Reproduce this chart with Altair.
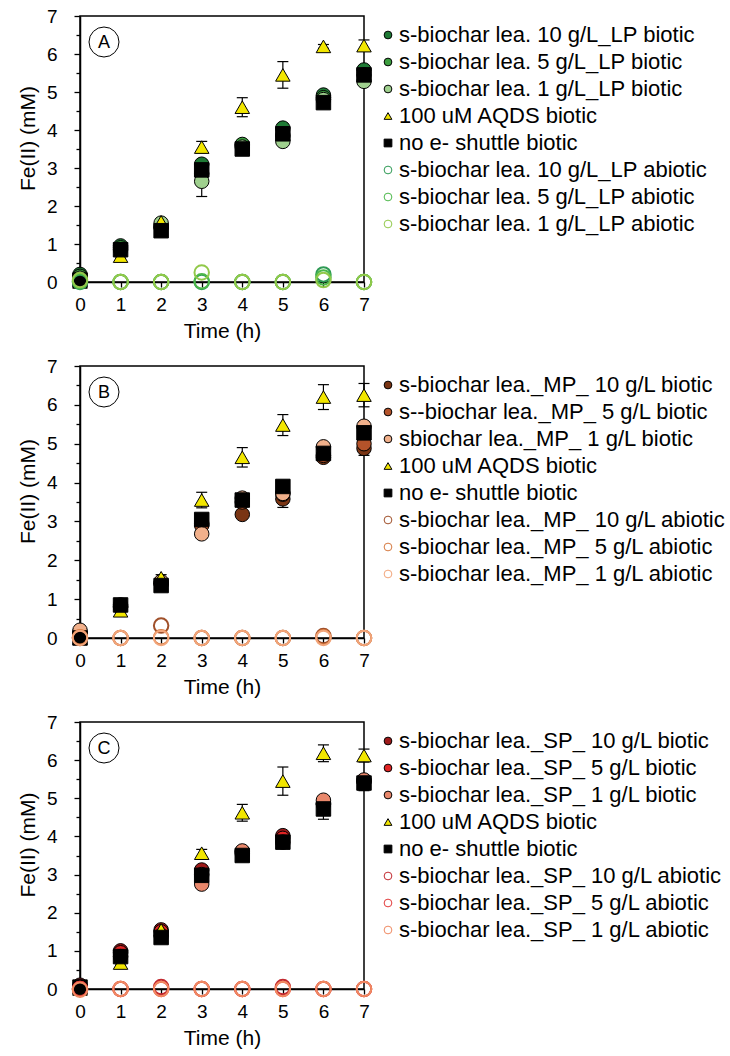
import altair as alt
import pandas as pd

FONT = "Liberation Sans"

hours = [0, 1, 2, 3, 4, 5, 6, 7]
y_ticks = [i * 0.5 for i in range(15)]

# ---------------- Panel A: leaf biochar, large particles (LP) ----------------
names_a = [
    "s-biochar lea. 10 g/L_LP biotic",
    "s-biochar lea. 5 g/L_LP biotic",
    "s-biochar lea. 1 g/L_LP biotic",
    "100 uM AQDS biotic",
    "no e- shuttle  biotic",
    "s-biochar lea. 10 g/L_LP abiotic",
    "s-biochar lea. 5 g/L_LP abiotic",
    "s-biochar lea. 1 g/L_LP abiotic",
]
fills_a = ["#1f7a35", "#3c9e3f", "#9fd08e", "#f2e600", "#000000",
           "transparent", "transparent", "transparent"]
strokes_a = ["#000000", "#000000", "#000000", "#000000", "#000000",
             "#2f9a55", "#4cb84a", "#92c94a"]
values_a = [
    [0.20, 0.95, 1.45, 3.10, 3.60, 4.05, 4.92, 5.58],
    [0.15, 0.90, 1.45, 2.85, 3.62, 3.85, 4.85, 5.45],
    [0.10, 0.85, 1.55, 2.65, 3.55, 3.70, 4.80, 5.28],
    [0.00, 0.68, 1.58, 3.55, 4.60, 5.45, 6.20, 6.22],
    [0.05, 0.85, 1.35, 2.95, 3.50, 3.90, 4.72, 5.45],
    [0.00, 0.00, 0.00, 0.00, 0.00, 0.00, 0.20, 0.00],
    [0.02, 0.00, 0.00, 0.02, 0.00, 0.00, 0.12, 0.00],
    [0.05, 0.00, 0.00, 0.25, 0.00, 0.00, 0.05, 0.00],
]
errors_a = [
    [0, 0.05, 0.05, 0.10, 0.05, 0.08, 0.05, 0.10],
    [0, 0.05, 0.05, 0.10, 0.05, 0.08, 0.05, 0.10],
    [0, 0.05, 0.05, 0.40, 0.05, 0.08, 0.05, 0.10],
    [0, 0.05, 0.08, 0.15, 0.25, 0.35, 0.05, 0.15],
    [0, 0.05, 0.05, 0.20, 0.05, 0.08, 0.05, 0.10],
    [0, 0, 0, 0, 0, 0, 0, 0],
    [0, 0, 0, 0, 0, 0, 0, 0],
    [0, 0, 0, 0, 0, 0, 0, 0],
]

# ---------------- Panel B: leaf biochar, medium particles (MP) ----------------
names_b = [
    "s-biochar lea._MP_ 10 g/L biotic",
    "s--biochar lea._MP_ 5 g/L biotic",
    "sbiochar lea._MP_ 1 g/L biotic",
    "100 uM AQDS biotic",
    "no e- shuttle biotic",
    "s-biochar lea._MP_ 10 g/L abiotic",
    "s-biochar lea._MP_ 5 g/L abiotic",
    "s-biochar lea._MP_ 1 g/L abiotic",
]
fills_b = ["#7a3514", "#b4532a", "#f1b08b", "#f2e600", "#000000",
           "transparent", "transparent", "transparent"]
strokes_b = ["#000000", "#000000", "#000000", "#000000", "#000000",
             "#a0502a", "#d6793f", "#f2a57a"]
values_b = [
    [0.15, 0.85, 1.40, 2.95, 3.18, 3.58, 4.65, 4.88],
    [0.10, 0.80, 1.40, 2.90, 3.50, 3.70, 4.70, 5.00],
    [0.20, 0.80, 1.45, 2.68, 3.60, 3.72, 4.92, 5.45],
    [0.00, 0.70, 1.55, 3.55, 4.65, 5.48, 6.20, 6.25],
    [0.00, 0.85, 1.35, 3.05, 3.55, 3.90, 4.75, 5.28],
    [0.00, 0.00, 0.32, 0.00, 0.00, 0.00, 0.05, 0.00],
    [0.02, 0.00, 0.02, 0.00, 0.00, 0.00, 0.02, 0.00],
    [0.00, 0.00, 0.00, 0.00, 0.00, 0.00, 0.00, 0.00],
]
errors_b = [
    [0, 0.05, 0.05, 0.10, 0.05, 0.22, 0.05, 0.18],
    [0, 0.05, 0.05, 0.10, 0.05, 0.08, 0.05, 0.10],
    [0, 0.05, 0.05, 0.10, 0.05, 0.08, 0.05, 0.10],
    [0, 0.05, 0.08, 0.20, 0.25, 0.27, 0.32, 0.30],
    [0, 0.05, 0.05, 0.10, 0.05, 0.08, 0.05, 0.10],
    [0, 0, 0, 0, 0, 0, 0, 0],
    [0, 0, 0, 0, 0, 0, 0, 0],
    [0, 0, 0, 0, 0, 0, 0, 0],
]

# ---------------- Panel C: leaf biochar, small particles (SP) ----------------
names_c = [
    "s-biochar lea._SP_ 10 g/L biotic",
    "s-biochar lea._SP_ 5 g/L biotic",
    "s-biochar lea._SP_ 1 g/L biotic",
    "100 uM AQDS biotic",
    "no e- shuttle biotic",
    "s-biochar lea._SP_ 10 g/L abiotic",
    "s-biochar lea._SP_ 5 g/L abiotic",
    "s-biochar lea._SP_ 1 g/L abiotic",
]
fills_c = ["#9e1a1a", "#e02424", "#e8876b", "#f2e600", "#000000",
           "transparent", "transparent", "transparent"]
strokes_c = ["#000000", "#000000", "#000000", "#000000", "#000000",
             "#c22a30", "#e23b3b", "#f08a62"]
values_c = [
    [0.10, 1.00, 1.55, 3.12, 3.60, 4.02, 4.85, 5.45],
    [0.05, 0.95, 1.50, 3.00, 3.55, 3.95, 4.85, 5.45],
    [0.00, 0.85, 1.40, 2.75, 3.62, 3.85, 4.95, 5.48],
    [0.00, 0.68, 1.55, 3.56, 4.62, 5.45, 6.18, 6.12],
    [0.05, 0.85, 1.35, 2.98, 3.50, 3.85, 4.72, 5.40],
    [0.00, 0.00, 0.05, 0.00, 0.00, 0.05, 0.00, 0.00],
    [0.00, 0.00, 0.00, 0.00, 0.00, 0.00, 0.00, 0.00],
    [-0.02, 0.00, 0.00, 0.00, 0.00, 0.00, 0.00, 0.00],
]
errors_c = [
    [0, 0.05, 0.05, 0.10, 0.05, 0.08, 0.05, 0.10],
    [0, 0.05, 0.05, 0.10, 0.05, 0.08, 0.05, 0.10],
    [0, 0.05, 0.05, 0.10, 0.05, 0.08, 0.05, 0.10],
    [0, 0.05, 0.08, 0.10, 0.22, 0.37, 0.22, 0.17],
    [0, 0.05, 0.05, 0.10, 0.05, 0.10, 0.27, 0.20],
    [0, 0, 0, 0, 0, 0, 0, 0],
    [0, 0, 0, 0, 0, 0, 0, 0],
    [0, 0, 0, 0, 0, 0, 0, 0],
]

shapes = ["circle", "circle", "circle", "triangle-up", "square",
          "circle", "circle", "circle"]


def frame(names, values, errors):
    rows = []
    for i, (name, vals, errs) in enumerate(zip(names, values, errors)):
        for t, v, e in zip(hours, vals, errs):
            rows.append({"series": name, "time": t, "fe": v,
                         "lo": v - e, "hi": v + e, "err": e,
                         "abiotic": i >= 5})
    return pd.DataFrame(rows)


def panel(letter, names, fills, strokes, values, errors, height):
    df = frame(names, values, errors)
    base = alt.Chart(df)

    xscale = alt.Scale(domain=[0, 7], nice=False, zero=False)
    yscale = alt.Scale(domain=[0, 7], nice=False)
    xaxis = alt.Axis(values=hours, tickSize=5, labelPadding=8,
                     titlePadding=6, labelFlush=False, format="d")
    yaxis = alt.Axis(values=y_ticks, format=".0f",
                     labelExpr="datum.value % 1 === 0 ? datum.label : ''",
                     tickSize={"condition": {"test": "datum.value % 1 === 0",
                                             "value": 6}, "value": 4},
                     labelPadding=17, titlePadding=8, labelFlush=False,
                     titleY=height / 2 - 11)

    def X(field):
        return alt.X(field, type="quantitative", scale=xscale, axis=xaxis,
                     title="Time (h)")

    def Y(field):
        return alt.Y(field, type="quantitative", scale=yscale, axis=yaxis,
                     title="Fe(II) (mM)")

    legend = alt.Legend(title=None, orient="none", legendX=297, legendY=8,
                        labelFontSize=22, labelLimit=0, symbolSize=60,
                        rowPadding=5.0, labelOffset=0, symbolStrokeWidth=1,
                        labelFont=FONT, labelColor="black", padding=0)
    enc = dict(
        shape=alt.Shape("series:N", scale=alt.Scale(domain=names, range=shapes),
                        legend=legend),
        fill=alt.Fill("series:N", scale=alt.Scale(domain=names, range=fills),
                      legend=legend),
        stroke=alt.Stroke("series:N", scale=alt.Scale(domain=names, range=strokes),
                          legend=legend),
    )

    with_err = base.transform_filter("datum.err > 0")
    rules = with_err.mark_rule(color="black", strokeWidth=1.2).encode(
        x=X("time"), y=Y("lo"), y2="hi:Q")
    caps_lo = with_err.mark_tick(orient="horizontal", size=11, thickness=1.2,
                                 color="black", opacity=1).encode(
        x=X("time"), y=Y("lo"))
    caps_hi = with_err.mark_tick(orient="horizontal", size=11, thickness=1.2,
                                 color="black", opacity=1).encode(
        x=X("time"), y=Y("hi"))

    biotic = base.transform_filter("!datum.abiotic").mark_point(
        filled=True, opacity=1, size=210, strokeWidth=1).encode(
        x=X("time"), y=Y("fe"), **enc)
    abiotic = base.transform_filter("datum.abiotic").mark_point(
        filled=True, opacity=1, size=210, strokeWidth=2).encode(
        x=X("time"), y=Y("fe"), **enc)

    tag_df = pd.DataFrame({"tag": [letter]})
    tag_ring = alt.Chart(tag_df).mark_point(
        shape="circle", size=900, filled=False, color="black",
        strokeWidth=1, opacity=1).encode(x=alt.value(24), y=alt.value(26))
    tag_text = alt.Chart(tag_df).mark_text(
        font=FONT, fontSize=18, color="black").encode(
        x=alt.value(24), y=alt.value(27), text="tag:N")

    return alt.layer(rules, caps_lo, caps_hi, biotic, abiotic,
                     tag_ring, tag_text).properties(width=284, height=height)


chart = alt.vconcat(
    panel("A", names_a, fills_a, strokes_a, values_a, errors_a, 266),
    panel("B", names_b, fills_b, strokes_b, values_b, errors_b, 272),
    panel("C", names_c, fills_c, strokes_c, values_c, errors_c, 267),
    spacing=14,
).resolve_scale(
    shape="independent", fill="independent", stroke="independent"
).properties(
    padding={"left": 16, "top": 6, "right": 0, "bottom": 4},
    background="white",
).configure_view(
    stroke="black", strokeWidth=1.5
).configure_axis(
    grid=False, domainColor="black", domainWidth=1.5,
    tickColor="black", tickWidth=1.3,
    labelFont=FONT, labelFontSize=19, labelColor="black",
    titleFont=FONT, titleFontSize=21, titleFontWeight="normal",
    titleColor="black",
).configure_legend(
    labelFont=FONT
)

chart.save("out.html", embed_options={"renderer": "svg", "actions": False})
